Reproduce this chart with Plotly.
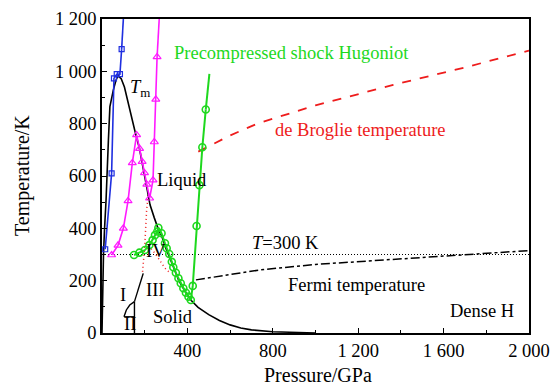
import plotly.graph_objects as go

# ---------------- data ----------------
# Melting curve T_m (black solid)
tm_p = [0, 3, 7, 12, 19, 30, 37, 53, 65, 75, 90, 105, 120, 135, 155, 175, 198, 225, 245, 264,
        280, 300, 330, 360, 390, 416, 450, 500, 550, 600, 650, 700, 800, 900, 1000]
tm_t = [0, 150, 300, 400, 508, 737, 865, 928, 965, 983, 972, 940, 885, 830, 769, 707, 612, 490, 440, 396,
        370, 322, 262, 200, 158, 126, 98, 70, 48, 31, 19, 12, 5, 2, 0]

# Blue curve with squares
blue_p = [15, 45, 56, 69, 84, 92]
blue_t = [320, 610, 973, 989, 989, 1085]
blue_end_p = [92, 100]
blue_end_t = [1085, 1200]

# Magenta curve with triangles
mag_p = [45, 75, 100, 122, 142, 162, 176, 188, 199, 210, 223, 239, 245, 252, 258]
mag_t = [298, 335, 400, 505, 650, 757, 705, 655, 612, 568, 515, 584, 730, 893, 1055]
mag_end_p = [258, 268]
mag_end_t = [1055, 1200]

# Precompressed shock Hugoniot (green circles)
hug_p = [150, 175, 201, 222, 237, 248, 259, 264, 279, 295, 303, 315, 327, 334, 346, 358, 369, 381,
         393, 405, 416, 425, 443, 456, 470, 486]
hug_t = [298, 307, 317, 336, 355, 374, 388, 402, 381, 343, 324, 302, 272, 251, 230, 209, 190, 171,
         154, 139, 126, 180, 409, 565, 710, 854]
hug_end_p = [486, 503]
hug_end_t = [854, 990]

# de Broglie temperature (red dashed)
db_p = [451, 600, 730, 1000, 1364, 1700, 2000]
db_t = [693, 755, 801, 870, 948, 1015, 1079]

# Fermi temperature (black dash-dot)
fe_p = [440, 740, 1000, 1364, 1700, 2000]
fe_t = [203, 241, 262, 282, 300, 315]

# T = 300 K (dotted)
t300_p = [0, 2000]
t300_t = [300, 300]

# Red dotted phase boundaries
ra_p = [190, 200, 209, 217]
ra_t = [234, 330, 470, 530]
rb_p = [205, 248, 295, 318]
rb_t = [345, 305, 248, 230]

# Black solid phase boundaries (I / II / III)
b1_p = [193, 152]
b1_t = [228, 120]
b2_p = [152, 130, 114, 103]
b2_t = [120, 107, 88, 62]
b3_p = [103, 152]
b3_t = [62, 62]
b4_p = [152, 152]
b4_t = [120, 0]

x_ticks = [400, 800, 1200, 1600, 2000]
x_ticktext = ["400", "800", "1 200", "1 600", "2 000"]
x_minor = [200, 600, 1000, 1400, 1800]
y_ticks = [0, 200, 400, 600, 800, 1000, 1200]
y_ticktext = ["0", "200", "400", "600", "800", "1 000", "1 200"]
y_minor = [100, 300, 500, 700, 900, 1100]

# ---------------- figure ----------------
FONT = "Liberation Serif, Times New Roman, serif"
BLUE = "#1f2fe0"
MAG = "#ff1aff"
GREEN = "#1ed81e"
RED = "#ee1c1c"

fig = go.Figure()

def line(px, py, color, width=1.5, dash="solid"):
    fig.add_trace(go.Scatter(x=px, y=py, mode="lines",
                             line=dict(color=color, width=width, dash=dash),
                             hoverinfo="skip", showlegend=False))

line(t300_p, t300_t, "black", 1.2, "1px,2px")
line(fe_p, fe_t, "black", 1.5, "dashdot")
line(db_p, db_t, RED, 1.8, "dash")
line(ra_p, ra_t, RED, 1.5, "1px,3px")
line(rb_p, rb_t, RED, 1.5, "1px,3px")
for bp, bt in [(b1_p, b1_t), (b2_p, b2_t), (b3_p, b3_t), (b4_p, b4_t)]:
    line(bp, bt, "black", 1.4)
line(tm_p, tm_t, "black", 1.6)

line(blue_end_p, blue_end_t, BLUE, 1.6)
fig.add_trace(go.Scatter(x=blue_p, y=blue_t, mode="lines+markers",
                         line=dict(color=BLUE, width=1.6),
                         marker=dict(symbol="square-open", size=5, color=BLUE, line=dict(width=1.2)),
                         hoverinfo="skip", showlegend=False))

line(mag_end_p, mag_end_t, MAG, 1.6)
fig.add_trace(go.Scatter(x=mag_p, y=mag_t, mode="lines+markers",
                         line=dict(color=MAG, width=1.6),
                         marker=dict(symbol="triangle-up-open", size=7, color=MAG, line=dict(width=1.2)),
                         hoverinfo="skip", showlegend=False))

line(hug_end_p, hug_end_t, GREEN, 2)
fig.add_trace(go.Scatter(x=hug_p, y=hug_t, mode="lines+markers",
                         line=dict(color=GREEN, width=2),
                         marker=dict(symbol="circle-open", size=7, color=GREEN, line=dict(width=1.6)),
                         hoverinfo="skip", showlegend=False))

TXT = 18.5
def label(px, py, text, color="black", xanchor="left", size=TXT):
    fig.add_annotation(x=px, y=py, text=text, showarrow=False, xanchor=xanchor, yanchor="middle",
                       font=dict(family=FONT, size=size, color=color))

label(328, 1069, "Precompressed shock Hugoniot", GREEN)
label(800, 776, "de Broglie temperature", RED)
label(122, 936, "<i>T</i><sub>m</sub>")
label(248, 585, "Liquid")
label(693, 343, "<i>T</i>=300 K")
label(862, 183, "Fermi temperature")
label(1622, 84, "Dense H")
label(334, 62, "Solid", xanchor="center")
label(98, 145, "I", xanchor="center")
label(130, 34, "II", xanchor="center")
label(248, 164, "III", xanchor="center")
label(255, 312, "IV", xanchor="center")

# axis titles as paper annotations (fixed positions)
fig.add_annotation(x=0.507, y=0, xref="paper", yref="paper", yshift=-42,
                   text="Pressure/GPa", showarrow=False, xanchor="center", yanchor="middle",
                   font=dict(family=FONT, size=20, color="black"))
fig.add_annotation(x=0, y=0.5, xref="paper", yref="paper", xshift=-80,
                   text="Temperature/K", showarrow=False, textangle=-90,
                   xanchor="center", yanchor="middle",
                   font=dict(family=FONT, size=20, color="black"))

fig.update_layout(
    width=553, height=387,
    margin=dict(l=102, r=24, t=19, b=54),
    paper_bgcolor="white", plot_bgcolor="white",
    showlegend=False,
    font=dict(family=FONT, size=18, color="black"),
)

fig.update_xaxes(range=[0, 2000], showgrid=False, zeroline=False, automargin=False,
                 showline=True, linecolor="black", linewidth=1.5, mirror=True,
                 tickmode="array", tickvals=x_ticks, ticktext=x_ticktext,
                 ticks="inside", ticklen=5, tickwidth=1.2, tickcolor="black",
                 minor=dict(tickvals=x_minor, ticks="inside", ticklen=3,
                            tickwidth=1.2, tickcolor="black"),
                 tickfont=dict(family=FONT, size=18.5))
fig.update_yaxes(range=[0, 1200], showgrid=False, zeroline=False, automargin=False,
                 showline=True, linecolor="black", linewidth=1.5, mirror=True,
                 tickmode="array", tickvals=y_ticks, ticktext=y_ticktext,
                 ticks="inside", ticklen=5, tickwidth=1.2, tickcolor="black",
                 minor=dict(tickvals=y_minor, ticks="inside", ticklen=3,
                            tickwidth=1.2, tickcolor="black"),
                 tickfont=dict(family=FONT, size=18.5))

fig.write_html("out.html", config={"displayModeBar": False})
